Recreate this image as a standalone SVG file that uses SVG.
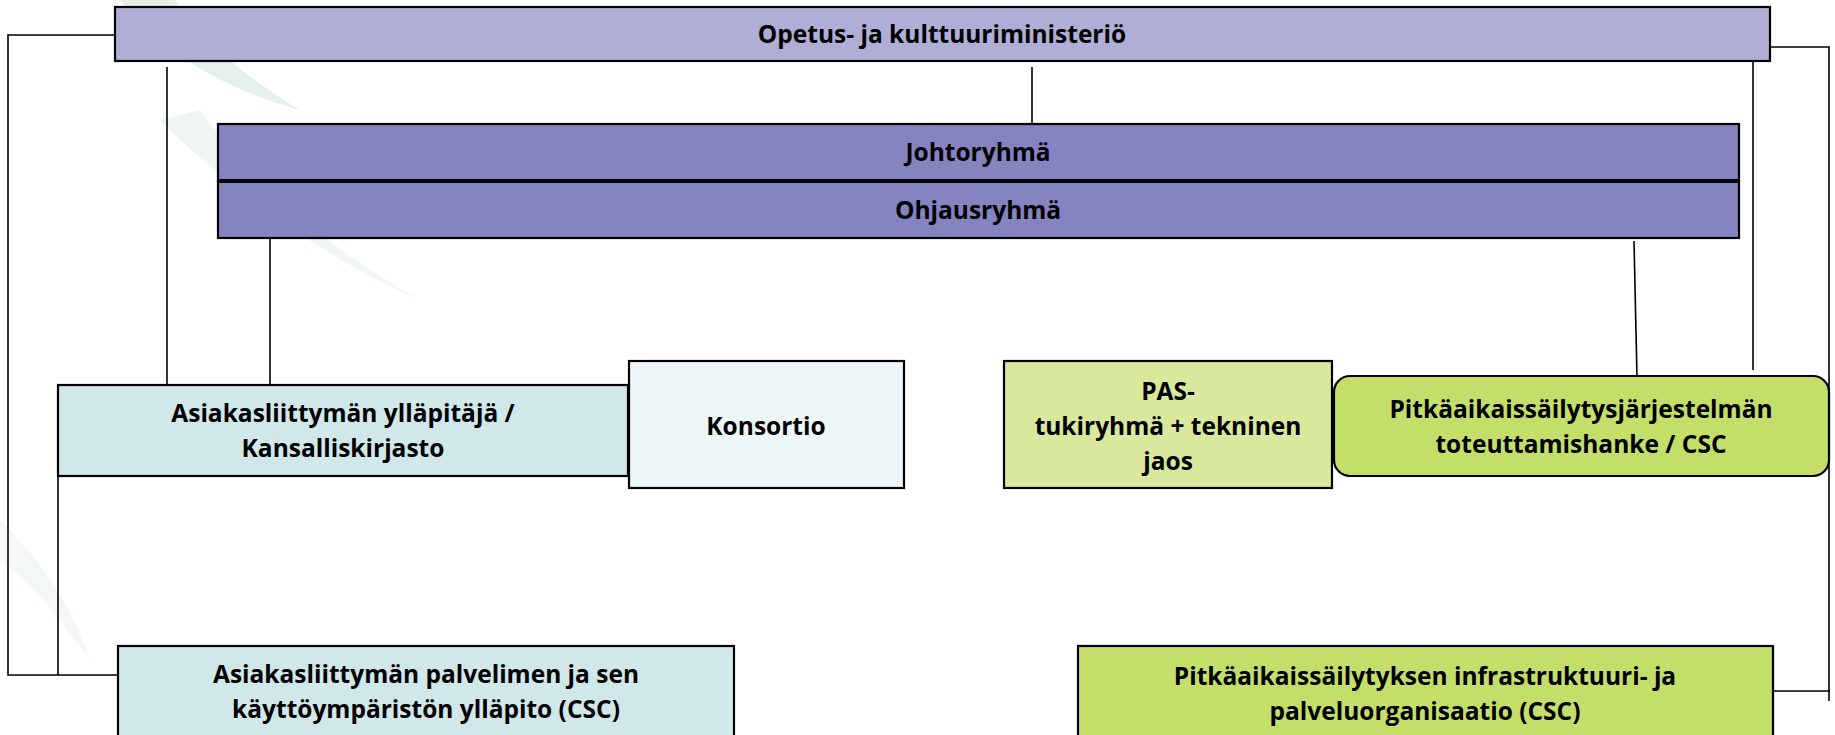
<svg xmlns="http://www.w3.org/2000/svg" width="1835" height="735" viewBox="0 0 1835 735">
<style>
.box{stroke:#000;stroke-width:2.2}
.lbl{font-family:"Open Sans","Noto Sans","Liberation Sans",sans-serif;font-weight:bold;font-size:24.5px;fill:#000;text-anchor:middle}
.con{fill:none;stroke:#000;stroke-width:1.6}
</style>
<rect width="1835" height="735" fill="#ffffff"/>
<g id="background" opacity="0.5">
<path d="M120 0 C170 60 230 90 300 110 C250 80 200 40 175 0 Z" fill="#cfe3d8"/>
<path d="M160 120 C240 200 330 260 420 300 C330 250 260 190 200 110 Z" fill="#e3efe8"/>
<path d="M0 520 C40 560 70 600 90 660 C60 620 30 580 0 560 Z" fill="#e8f1ec"/>
</g>
<g id="connectors">
<polyline class="con" points="115,35 8,35 8,675 118,675"/>
<line class="con" x1="58" y1="476" x2="58" y2="675"/>
<line class="con" x1="167" y1="67" x2="167" y2="385"/>
<line class="con" x1="270" y1="238" x2="270" y2="385"/>
<line class="con" x1="1032" y1="67" x2="1032" y2="123"/>
<line class="con" x1="1634" y1="241" x2="1637" y2="377"/>
<line class="con" x1="1753" y1="61" x2="1753" y2="370"/>
<polyline class="con" points="1770,47 1829,47 1829,701"/>
<line class="con" x1="1773" y1="691" x2="1830" y2="691"/>
</g>
<g id="n-okm">
<rect class="box" x="115" y="7" width="1655" height="54" fill="#aeaed6"/>
<text class="lbl" x="942" y="43">Opetus- ja kulttuuriministeriö</text>
</g>
<g id="n-johtoryhma">
<rect class="box" x="218" y="124" width="1521" height="57" fill="#8584c0"/>
<text class="lbl" x="978" y="161">Johtoryhmä</text>
</g>
<g id="n-ohjausryhma">
<rect class="box" x="218" y="181" width="1521" height="57" fill="#8584c0"/>
<line x1="218" y1="181" x2="1739" y2="181" stroke="#000" stroke-width="4"/>
<text class="lbl" x="978" y="219">Ohjausryhmä</text>
</g>
<g id="n-asiakas">
<rect class="box" x="58" y="385" width="570" height="91" fill="#d0e8e9"/>
<text class="lbl" x="343" y="422">Asiakasliittymän ylläpitäjä /</text>
<text class="lbl" x="343" y="457">Kansalliskirjasto</text>
</g>
<g id="n-konsortio">
<rect class="box" x="629" y="361" width="275" height="127" fill="#eef7f7"/>
<text class="lbl" x="766" y="435">Konsortio</text>
</g>
<g id="n-pas">
<rect class="box" x="1004" y="361" width="328" height="127" fill="#d8e99d"/>
<text class="lbl" x="1168" y="400">PAS-</text>
<text class="lbl" x="1168" y="435">tukiryhmä + tekninen</text>
<text class="lbl" x="1168" y="470">jaos</text>
</g>
<g id="n-pitka-hanke">
<rect class="box" x="1334" y="376" width="495" height="100" rx="16" ry="16" fill="#c3df6a"/>
<text class="lbl" x="1581" y="418">Pitkäaikaissäilytysjärjestelmän</text>
<text class="lbl" x="1581" y="453">toteuttamishanke / CSC</text>
</g>
<g id="n-asiakas-palvelin">
<rect class="box" x="118" y="646" width="616" height="100" fill="#d0e8e9"/>
<text class="lbl" x="426" y="683">Asiakasliittymän palvelimen ja sen</text>
<text class="lbl" x="426" y="718">käyttöympäristön ylläpito (CSC)</text>
</g>
<g id="n-infra">
<rect class="box" x="1078" y="646" width="695" height="100" fill="#c3df6a"/>
<text class="lbl" x="1425" y="685">Pitkäaikaissäilytyksen infrastruktuuri- ja</text>
<text class="lbl" x="1425" y="720">palveluorganisaatio (CSC)</text>
</g>
</svg>
